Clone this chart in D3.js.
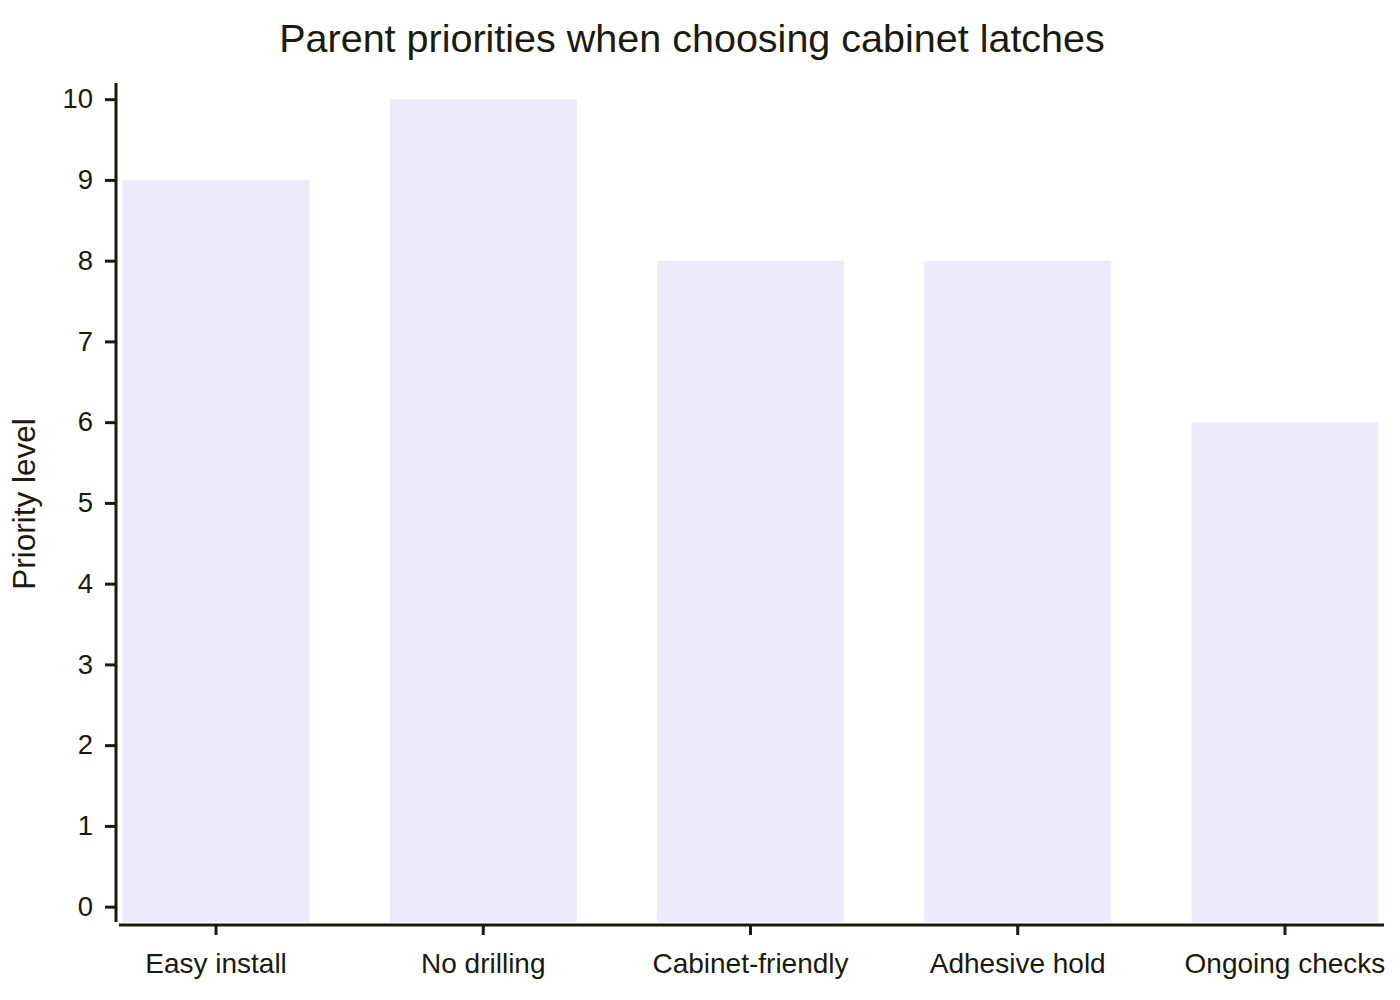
<!DOCTYPE html>
<html>
<head>
<meta charset="utf-8">
<script src="https://cdn.jsdelivr.net/npm/d3@7"></script>
<style>
  body { margin: 0; background: #fff; }
  svg { display: block; font-family: "Liberation Sans", Arial, sans-serif; }
</style>
</head>
<body>
<svg id="chart" width="1400" height="1000"></svg>
<script>
// data
const categories = ["Easy install", "No drilling", "Cabinet-friendly", "Adhesive hold", "Ongoing checks"];
const priority = [9, 10, 8, 8, 6];
const yTicks = [0, 1, 2, 3, 4, 5, 6, 7, 8, 9, 10];

const ink = "#1a1a0d";
const barFill = "#ebebfc";

const svg = d3.select("#chart");

// plot box
const plotLeft = 120, plotRight = 1384, plotTop = 83, plotBottom = 922;

const x = d3.scaleBand()
  .domain(categories)
  .range([122.5, 1378.5])
  .paddingInner(0.3)
  .paddingOuter(0);

const y = d3.scaleLinear()
  .domain([-0.19, 10.2])
  .range([plotBottom, plotTop]);

// bars run from the bottom of the plot box
svg.append("g")
  .selectAll("rect")
  .data(categories)
  .join("rect")
  .attr("x", d => x(d))
  .attr("width", x.bandwidth())
  .attr("y", (d, i) => y(priority[i]))
  .attr("height", (d, i) => plotBottom - y(priority[i]))
  .attr("fill", barFill);

// y axis, offset a little to the left
const yAxis = svg.append("g")
  .attr("transform", `translate(${plotLeft - 4},0)`)
  .call(d3.axisLeft(y).tickValues(yTicks).tickSize(11).tickPadding(12).tickSizeOuter(0));
yAxis.select(".domain").attr("stroke", ink).attr("stroke-width", 3)
  .attr("d", `M0,${plotTop}V${plotBottom}`);
yAxis.selectAll(".tick line").attr("stroke", ink).attr("stroke-width", 3);
yAxis.selectAll(".tick text").attr("fill", ink).attr("font-size", 27.5)
  .attr("font-family", "Liberation Sans, Arial, sans-serif");

// x axis, offset a little below
const xAxis = svg.append("g")
  .attr("transform", `translate(0,${plotBottom + 3})`)
  .call(d3.axisBottom(x).tickSize(10).tickPadding(18).tickSizeOuter(0));
xAxis.select(".domain").attr("stroke", ink).attr("stroke-width", 3)
  .attr("d", `M${plotLeft - 1},0H${plotRight}`);
xAxis.selectAll(".tick line").attr("stroke", ink).attr("stroke-width", 3);
xAxis.selectAll(".tick text").attr("fill", ink).attr("font-size", 28)
  .attr("font-family", "Liberation Sans, Arial, sans-serif");

// title
svg.append("text")
  .attr("x", 692)
  .attr("y", 52)
  .attr("text-anchor", "middle")
  .attr("font-size", 39.5)
  .attr("fill", ink)
  .text("Parent priorities when choosing cabinet latches");

// y label
svg.append("text")
  .attr("transform", `translate(35,504) rotate(-90)`)
  .attr("text-anchor", "middle")
  .attr("font-size", 31.5)
  .attr("fill", ink)
  .text("Priority level");
</script>
</body>
</html>
